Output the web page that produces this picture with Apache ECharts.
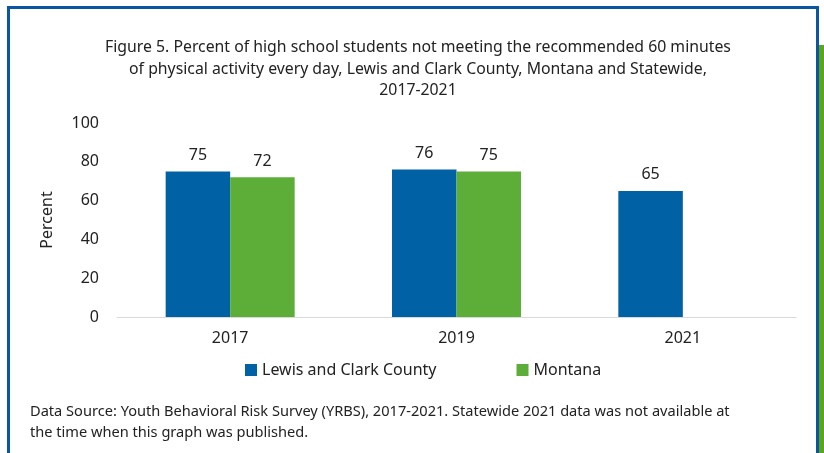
<!DOCTYPE html>
<html><head><meta charset="utf-8">
<script src="https://cdn.jsdelivr.net/npm/echarts@6/dist/echarts.min.js"></script>
<style>
html,body{margin:0;padding:0;background:#fff;}
#wrap{position:relative;width:824px;height:453px;overflow:hidden;}
#frame{position:absolute;left:7px;top:6px;width:812px;height:460px;border:3px solid #0b56a4;box-sizing:border-box;}
#side{position:absolute;left:819px;top:45px;width:5px;height:408px;background:#5ea51e;}
#chart{position:absolute;left:0;top:0;width:824px;height:453px;}
</style>
</head><body>
<div id="wrap"><div id="frame"></div><div id="side"></div><div id="chart"></div></div>
<script>
const categories = ['2017', '2019', '2021'];
const lewisClark = [75, 76, 65];
const montana = [72, 75, null];
const yTicks = [0, 20, 40, 60, 80, 100];

const font = '"Noto Sans", sans-serif';
const chart = echarts.init(document.getElementById('chart'), null, {renderer: 'canvas'});
chart.setOption({
  animation: false,
  backgroundColor: 'transparent',
  title: {
    text: 'Figure 5. Percent of high school students not meeting the recommended 60 minutes\nof physical activity every day, Lewis and Clark County, Montana and Statewide,\n2017-2021',
    left: 413, top: 32, textAlign: 'center',
    textStyle: {fontFamily: font, fontSize: 15.8, fontWeight: 'normal', color: '#222', lineHeight: 21.5}
  },
  graphic: [{
    type: 'text', left: 30, top: 401,
    style: {
      text: 'Data Source: Youth Behavioral Risk Survey (YRBS), 2017-2021. Statewide 2021 data was not available at\nthe time when this graph was published.',
      fontFamily: font, fontSize: 14.6, fill: '#222', lineHeight: 21
    }
  }],
  legend: {
    bottom: 70, left: 240, itemWidth: 12, itemHeight: 12, itemGap: 80,
    icon: 'rect',
    textStyle: {fontFamily: font, fontSize: 16, color: '#222'},
    data: ['Lewis and Clark County', 'Montana']
  },
  grid: {left: 117, right: 28, top: 123, bottom: 136},
  xAxis: {
    type: 'category', data: categories,
    axisLine: {lineStyle: {color: '#d9d9d9', width: 1}},
    axisTick: {show: false},
    axisLabel: {fontFamily: font, fontSize: 16, color: '#222', margin: 13}
  },
  yAxis: {
    type: 'value', min: 0, max: 100, interval: 20,
    name: 'Percent', nameLocation: 'middle', nameGap: 62, nameRotate: 90,
    nameTextStyle: {fontFamily: font, fontSize: 16, color: '#222'},
    axisLine: {show: false}, axisTick: {show: false}, splitLine: {show: false},
    axisLabel: {fontFamily: font, fontSize: 16, color: '#222', margin: 18,
      formatter: v => yTicks.includes(v) ? String(v) : ''}
  },
  series: [
    {name: 'Lewis and Clark County', type: 'bar', data: lewisClark, barGap: '0%', barCategoryGap: '43%',
     itemStyle: {color: '#0061a5'},
     label: {show: true, position: 'top', distance: 8, fontFamily: font, fontSize: 16, color: '#222'}},
    {name: 'Montana', type: 'bar', data: montana,
     itemStyle: {color: '#5dae38'},
     label: {show: true, position: 'top', distance: 8, fontFamily: font, fontSize: 16, color: '#222'}}
  ]
});
</script>
</body></html>
